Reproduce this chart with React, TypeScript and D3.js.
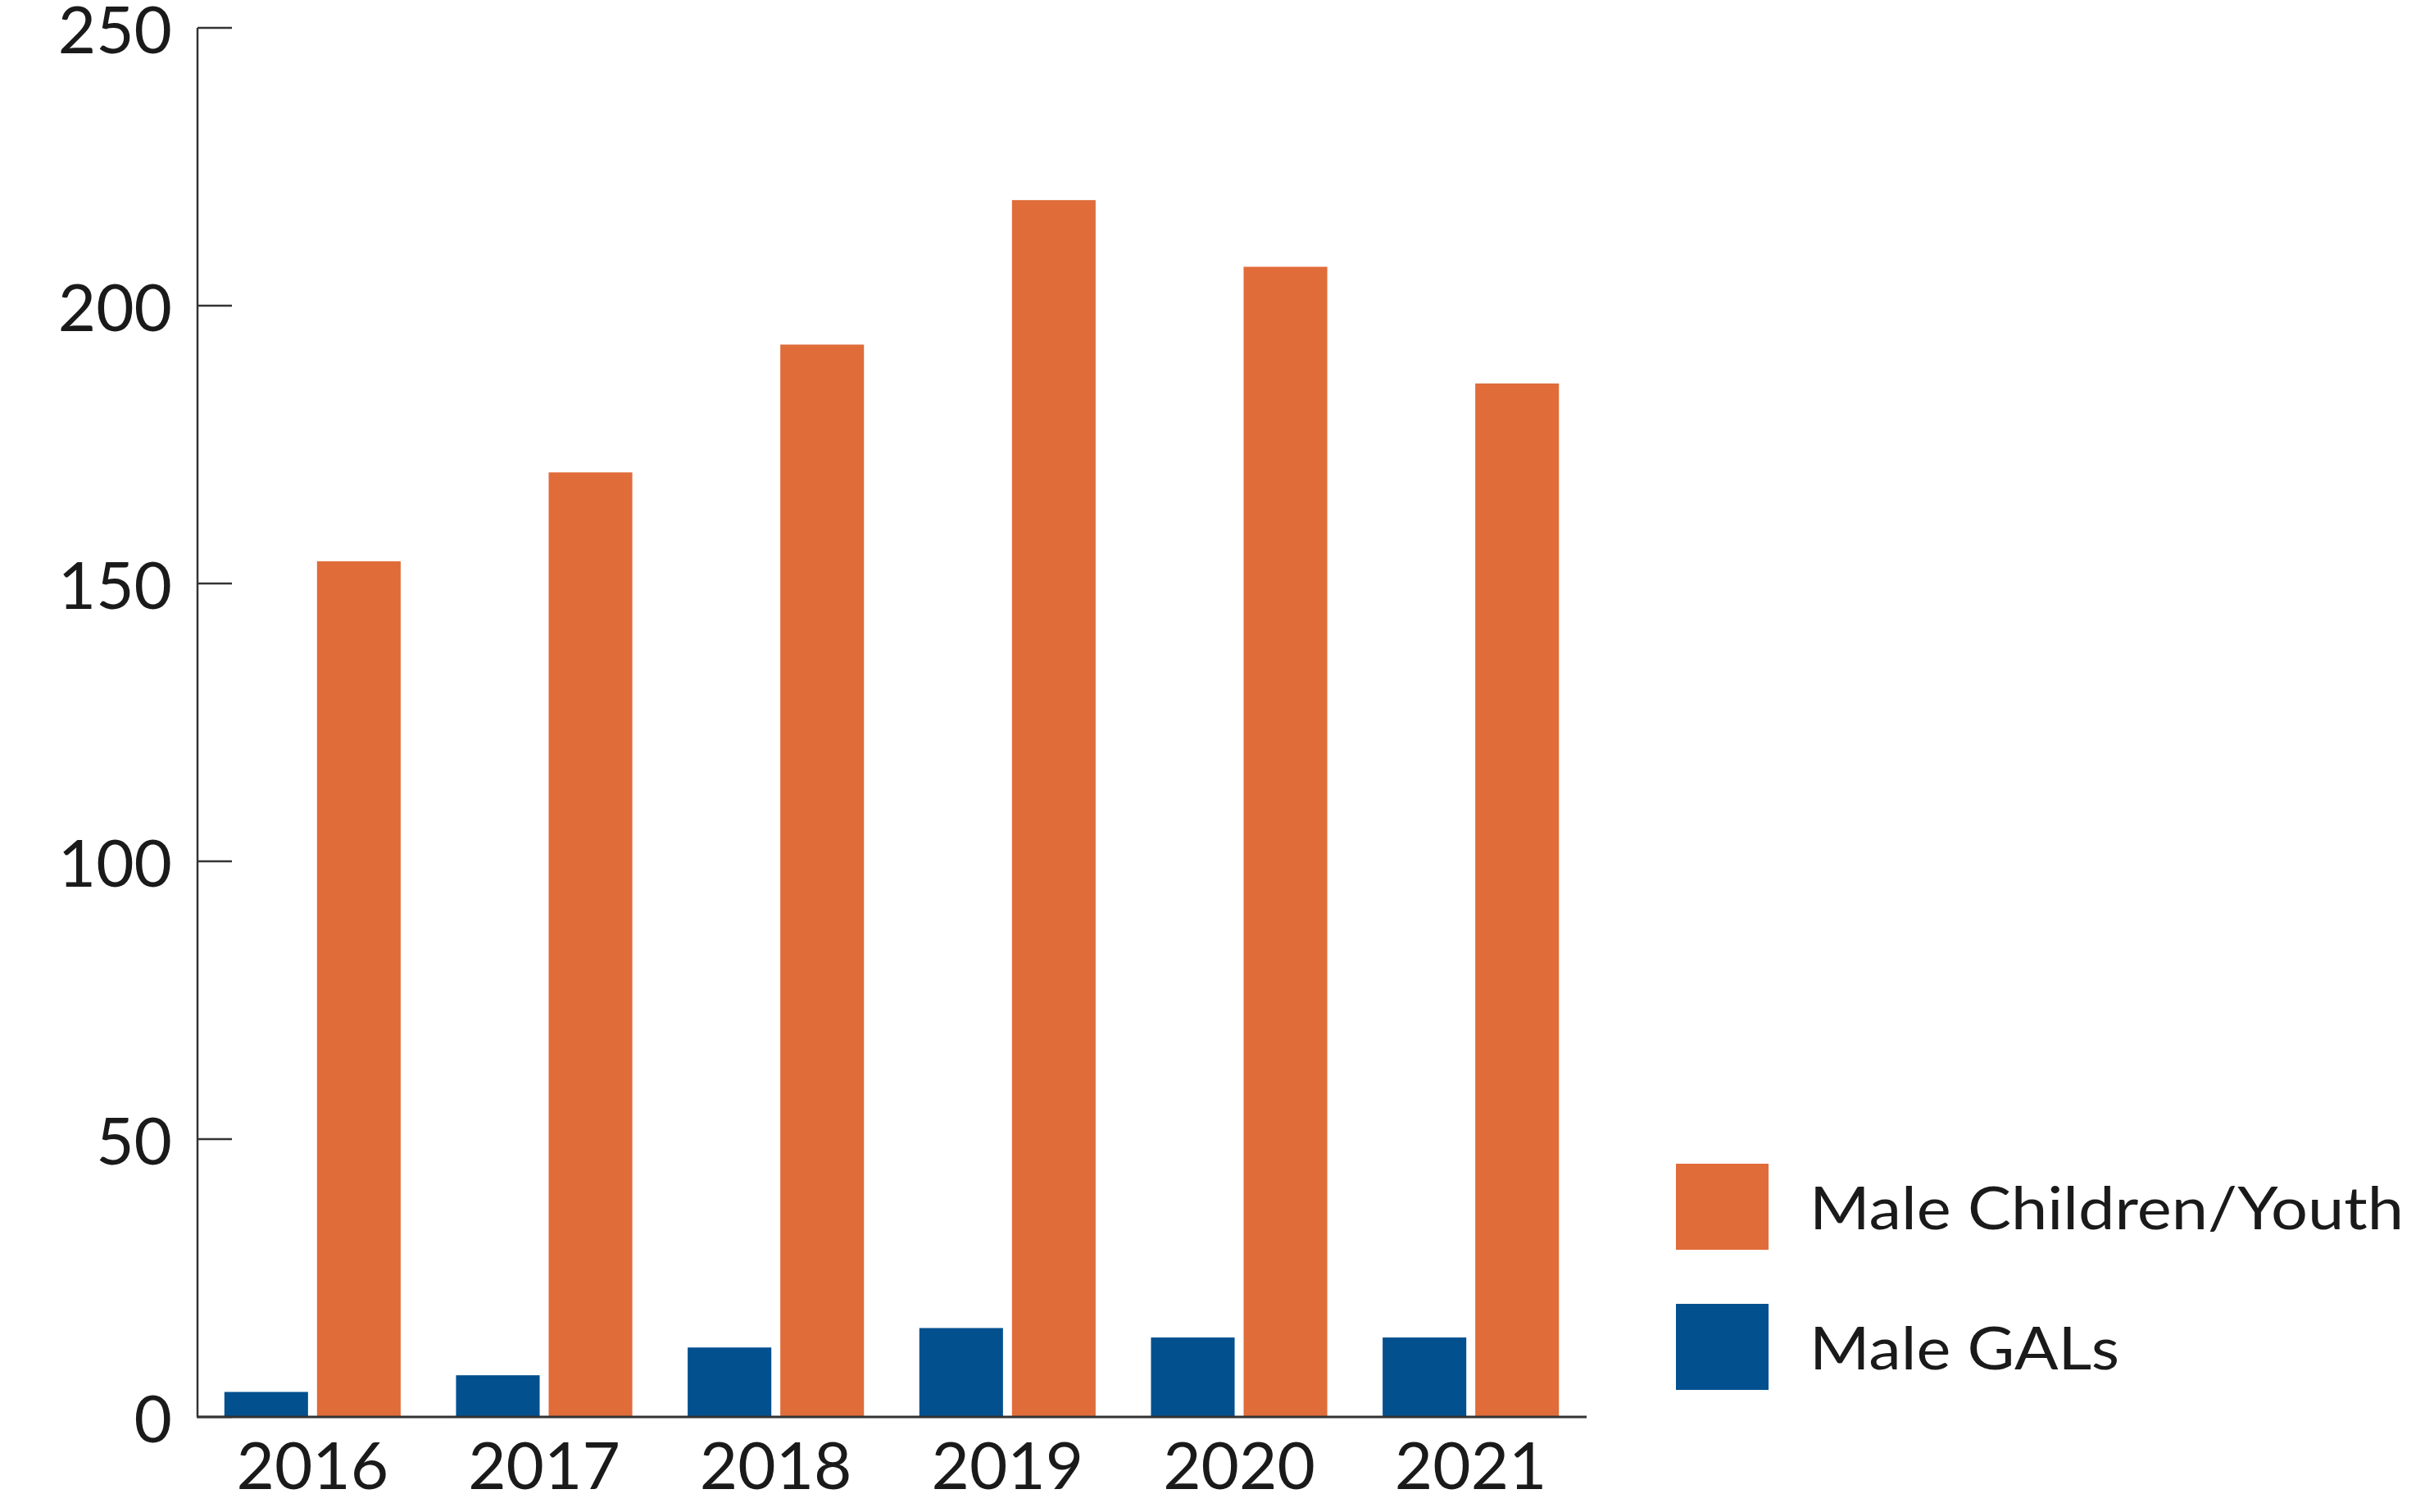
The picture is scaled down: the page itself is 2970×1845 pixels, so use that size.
import React from "react";
import * as d3 from "d3";

const years = ["2016", "2017", "2018", "2019", "2020", "2021"];
const maleGALs = [4.5, 7.5, 12.5, 16, 14.3, 14.3];
const maleChildrenYouth = [154, 170, 193, 219, 207, 186];
const seriesNames = ["Male GALs", "Male Children/Youth"];
const seriesColors = ["#03508f", "#e06c3a"];
const yTicks = [0, 50, 100, 150, 200, 250];
const legendOrder = [1, 0];
const legendTextWidths = [378, 725];

const W = 2970;
const H = 1845;
const FONT = "Lato, 'Open Sans', sans-serif";

export default function App() {
  const x0 = d3
    .scaleBand<string>()
    .domain(years)
    .range([240, 1936])
    .paddingInner(0.239)
    .paddingOuter(0.1195);
  const x1 = d3
    .scaleBand<number>()
    .domain([0, 1])
    .range([0, x0.bandwidth()])
    .paddingInner(0.097)
    .paddingOuter(0);
  const y = d3.scaleLinear().domain([0, 250]).range([1729, 34]);
  const series = [maleGALs, maleChildrenYouth];

  return (
    <svg
      width={W}
      height={H}
      style={{ position: "absolute", left: 0, top: 0, background: "#fff" }}
    >
      <rect x={0} y={0} width={W} height={H} fill="#fff" />
      {years.map((yr, i) => (
        <g key={yr} transform={`translate(${x0(yr)},0)`}>
          {series.map((vals, s) => (
            <rect
              key={s}
              x={x1(s)}
              y={y(vals[i])}
              width={x1.bandwidth()}
              height={y(0) - y(vals[i])}
              fill={seriesColors[s]}
            />
          ))}
        </g>
      ))}
      {/* y axis */}
      <line x1={241} x2={241} y1={y(250)} y2={y(0)} stroke="#333" strokeWidth={2.5} />
      {yTicks.map((t) => (
        <g key={t}>
          <line x1={241} x2={283} y1={y(t)} y2={y(t)} stroke="#333" strokeWidth={2.5} />
          <text
            x={210}
            y={y(t) + 31}
            textAnchor="end"
            fontFamily={FONT}
            fontSize={80}
            fill="#1a1a1a"
          >
            {t}
          </text>
        </g>
      ))}
      {/* x axis */}
      <line x1={240} x2={1936} y1={y(0)} y2={y(0)} stroke="#333" strokeWidth={3} />
      {years.map((yr) => (
        <text
          key={yr}
          x={(x0(yr) as number) + x0.bandwidth() / 2}
          y={1817}
          textAnchor="middle"
          fontFamily={FONT}
          fontSize={80}
          fill="#1a1a1a"
        >
          {yr}
        </text>
      ))}
      {/* legend */}
      {legendOrder.map((s, k) => (
        <g key={s} transform={`translate(2045,${1420 + k * 171})`}>
          <rect x={0} y={0} width={113} height={105} fill={seriesColors[s]} />
          <text
            x={163}
            y={80}
            fontFamily={FONT}
            fontSize={72}
            fill="#1a1a1a"
            textLength={legendTextWidths[s]}
            lengthAdjust="spacingAndGlyphs"
          >
            {seriesNames[s]}
          </text>
        </g>
      ))}
    </svg>
  );
}
